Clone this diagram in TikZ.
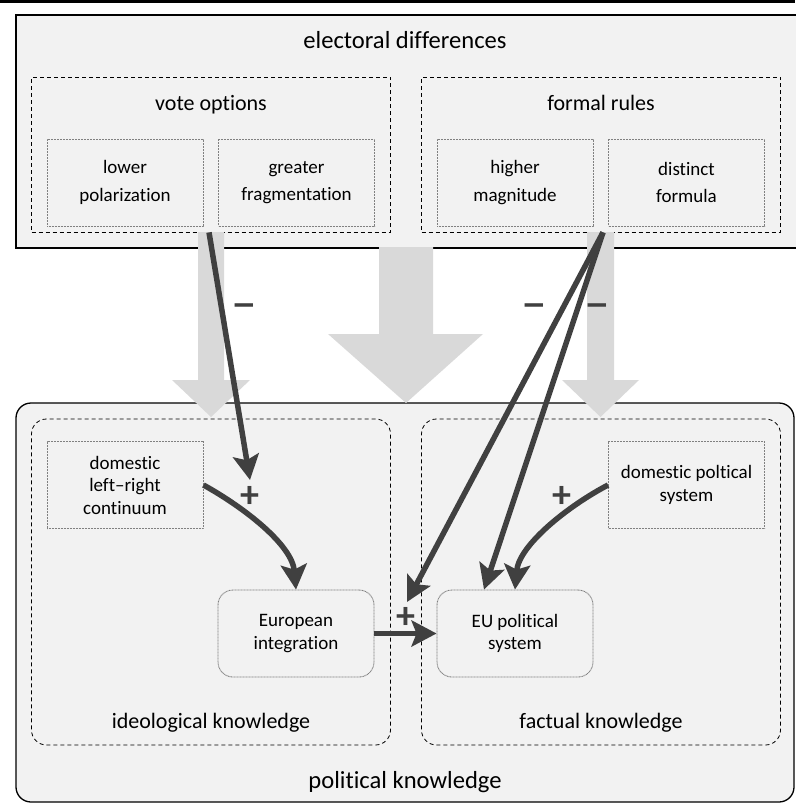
\documentclass[tikz,border=0pt]{standalone}
\usepackage{fontspec}
\setmainfont{Carlito}[Ligatures={NoCommon}]
\usetikzlibrary{arrows.meta}
\definecolor{boxfill}{HTML}{F2F2F2}
\definecolor{grayarrow}{HTML}{D9D9D9}
\definecolor{darkarrow}{HTML}{404040}
\definecolor{dotgray}{HTML}{808080}
\begin{document}
\begin{tikzpicture}[x=1pt,y=-1pt,
  outerbox/.style={draw=black, line width=1.3pt, fill=boxfill},
  groupbox/.style={draw=black, line width=0.8pt, dash pattern=on 4pt off 3pt, minimum width=359pt, minimum height=155pt, inner sep=0pt},
  factbox/.style={draw=dotgray, line width=0.9pt, dash pattern=on 0.9pt off 0.6pt, minimum width=156pt, minimum height=87pt, inner sep=0pt, align=center},
  toptext/.style={font=\fontsize{19}{27.5}\selectfont},
  bottext/.style={font=\fontsize{19}{22.5}\selectfont},
  heading/.style={font=\fontsize{24.6}{28}\selectfont, anchor=base},
  subheading/.style={font=\fontsize{22}{26}\selectfont, anchor=base},
  sign/.style={font=\bfseries\fontsize{38}{38}\selectfont, text=darkarrow, inner sep=0pt},
  garrow/.style={fill=grayarrow},
  darr/.style={draw=darkarrow, line width=5.5pt, -{Stealth[length=25pt,width=26pt,inset=5pt]}}
]
\useasboundingbox (0,0) rectangle (795,803);
% top rule
\fill[black] (0,0) rectangle (795,2.6);
% outer boxes
\draw[outerbox] (16,15) rectangle (805,248);
\draw[outerbox, rounded corners=15pt] (16,403) rectangle (794,802);
% headings
\node[heading] (ed) at (405,48) {electoral differences};
\node[heading] (pk) at (405,788) {political knowledge};
% group boxes
\node[groupbox] (vo) at (211,154.5) {};
\node[groupbox] (fr) at (601,154.5) {};
\node[groupbox, rounded corners=15pt, minimum height=326pt] (ik) at (211,582) {};
\node[groupbox, rounded corners=15pt, minimum height=326pt] (fk) at (601,582) {};
\node[subheading] (vot) at (211,110) {vote options};
\node[subheading] (frt) at (601,110) {formal rules};
\node[subheading] (ikt) at (211,728) {ideological knowledge};
\node[subheading] (fkt) at (601,728) {factual knowledge};
% inner boxes
\node[factbox, toptext] (lp) at (125,182.5) {lower\\polarization};
\node[factbox, toptext] (gf) at (296.5,182.5) {greater\\fragmentation};
\node[factbox, toptext] (hm) at (515,182.5) {higher\\magnitude};
\node[factbox, toptext] (df) at (686.5,182.5) {distinct\\formula};
\node[factbox, bottext] (lr) at (125,485) {domestic\\left–right\\continuum};
\node[factbox, bottext] (dps) at (686.5,485) {domestic poltical\\system};
\node[factbox, bottext, rounded corners=15pt] (ei) at (296,633.5) {European\\integration};
\node[factbox, bottext, rounded corners=15pt] (eu) at (515,633.5) {EU political\\system};
% grey arrows
\fill[garrow] (198,232) -- (224,232) -- (224,380) -- (250,380) -- (211,417) -- (172,380) -- (198,380) -- cycle;
\fill[garrow] (587,232) -- (614,232) -- (614,380) -- (639,380) -- (600.5,417) -- (562,380) -- (587,380) -- cycle;
\fill[garrow] (379,247) -- (433,247) -- (433,334) -- (483,334) -- (406,403) -- (328,334) -- (379,334) -- cycle;
% dark arrows
\coordinate (t1) at (250,480);
\coordinate (t4) at (407,602);
\draw[darr] ([xshift=-2pt]vo.south) -- (t1);
\draw[darr] ([xshift=2pt]fr.south) -- (t4);
\draw[darr] ([xshift=2pt]fr.south) -- ([xshift=-31pt]eu.north);
\draw[darr] (lr.east) .. controls (245,508) and (292,545) .. (ei.north);
\draw[darr] (dps.west) .. controls (568,506) and (519,545) .. (eu.north);
\draw[darr] (ei.east) -- (eu.west);
% signs
\node[sign] (m1) at (244,311) {\scalebox{1.25}[1]{−}};
\node[sign] (m2) at (534,311) {\scalebox{1.25}[1]{−}};
\node[sign] (m3) at (597,311) {\scalebox{1.25}[1]{−}};
\node[sign] (p1) at (250,497) {+};
\node[sign] (p2) at (406,618) {+};
\node[sign] (p3) at (562,497) {+};
\end{tikzpicture}
\end{document}
